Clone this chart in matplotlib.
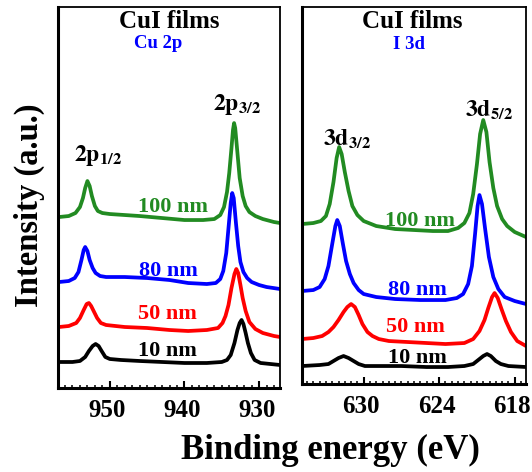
import matplotlib
matplotlib.use('Agg')
import matplotlib.pyplot as plt
import matplotlib.transforms as mtransforms
from matplotlib.ticker import MultipleLocator

plt.rcParams['font.family'] = 'Liberation Serif'
plt.rcParams['font.weight'] = 'bold'
plt.rcParams['mathtext.fontset'] = 'stix'

# ---- Cu 2p spectra (binding energy in eV, intensity in a.u.) ----
cu_e_100 = [956.8, 955.5, 954.6, 954.0, 953.6, 953.3, 953.0, 952.7, 952.4, 952.0, 951.6, 951.0, 950.0, 948.0,
            946.0, 943.0, 940.0, 937.5, 936.0, 935.2, 934.7, 934.3, 934.0, 933.7, 933.5, 933.35, 933.2, 932.9,
            932.6, 932.2, 931.8, 931.3, 930.5, 929.5, 928.0, 927.2]
cu_i_100 = [171, 172, 175, 181, 190, 200, 207, 202, 192, 182, 177, 175, 174, 173, 172, 170, 168, 168, 169, 173,
            181, 196, 215, 240, 258, 265, 260, 235, 210, 192, 182, 176, 172, 169, 166, 165]

cu_e_80 = [956.8, 955.5, 954.7, 954.2, 953.8, 953.5, 953.3, 953.0, 952.7, 952.3, 951.9, 951.3, 950.5, 948.0,
           945.0, 942.0, 939.5, 937.0, 935.8, 935.2, 934.8, 934.4, 934.1, 933.8, 933.6, 933.4, 933.1, 932.8,
           932.5, 932.1, 931.6, 931.0, 930.0, 929.0, 927.2]
cu_i_80 = [106, 107, 110, 116, 128, 138, 141, 137, 128, 120, 115, 112, 111, 111, 110, 108, 105, 104, 105, 109,
           117, 135, 160, 185, 195, 190, 165, 142, 126, 116, 110, 106, 103, 101, 99]

cu_e_50 = [956.8, 955.5, 954.5, 954.0, 953.5, 953.1, 952.8, 952.5, 952.1, 951.7, 951.2, 950.5, 948.0, 945.0,
           942.0, 939.5, 937.0, 935.5, 934.9, 934.5, 934.1, 933.7, 933.3, 933.05, 932.8, 932.5, 932.2, 931.8,
           931.3, 930.5, 929.5, 928.0, 927.2]
cu_i_50 = [61, 62, 65, 70, 78, 84, 85, 82, 76, 70, 65, 63, 61, 60, 58, 57, 58, 60, 65, 72, 83, 100, 114, 119,
           115, 103, 90, 77, 66, 59, 55, 52, 51]

cu_e_10 = [956.8, 955.0, 954.0, 953.3, 952.8, 952.3, 951.9, 951.5, 951.1, 950.6, 950.0, 948.5, 946.0, 943.0,
           940.0, 937.0, 935.0, 934.3, 933.8, 933.3, 932.9, 932.6, 932.35, 932.1, 931.8, 931.5, 931.1, 930.6,
           929.8, 928.5, 927.2]
cu_i_10 = [26, 26, 27, 31, 37, 42, 44, 42, 37, 31, 29, 28, 27, 26, 25, 25, 26, 28, 33, 45, 58, 65, 68, 64, 55,
           45, 35, 28, 25, 24, 23]

# ---- I 3d spectra ----
i_e_100 = [634.9, 634.0, 633.4, 633.0, 632.7, 632.4, 632.15, 631.95, 631.75, 631.5, 631.2, 630.9, 630.5, 630.0,
           629.0, 627.5, 626.0, 624.5, 623.3, 622.5, 622.0, 621.6, 621.3, 621.0, 620.75, 620.5, 620.25, 620.0,
           619.7, 619.4, 619.0, 618.6, 618.0, 617.1]
i_i_100 = [160, 161, 163, 168, 180, 202, 226, 237, 230, 212, 193, 178, 169, 163, 158, 155, 154, 153, 153, 156,
           161, 171, 190, 220, 250, 264, 252, 222, 196, 178, 165, 158, 152, 147]

i_e_80 = [634.9, 634.0, 633.5, 633.1, 632.8, 632.5, 632.25, 632.1, 631.9, 631.65, 631.4, 631.1, 630.8, 630.4,
          630.0, 629.0, 627.5, 625.5, 623.5, 622.6, 622.1, 621.7, 621.4, 621.15, 620.95, 620.8, 620.6, 620.35,
          620.05, 619.7, 619.3, 618.8, 618.0, 617.1]
i_i_80 = [93, 94, 97, 105, 118, 140, 158, 164, 158, 140, 123, 110, 101, 94, 90, 87, 85, 84, 84, 86, 90, 100,
          118, 150, 178, 189, 180, 155, 127, 107, 95, 87, 83, 80]

i_e_50 = [634.9, 634.0, 633.3, 632.8, 632.4, 632.0, 631.6, 631.3, 631.0, 630.7, 630.4, 630.1, 629.7, 629.3,
          628.8, 628.0, 626.5, 625.0, 623.5, 622.0, 621.3, 620.8, 620.4, 620.1, 619.8, 619.6, 619.35, 619.05,
          618.7, 618.3, 617.8, 617.1]
i_i_50 = [45, 46, 48, 52, 57, 64, 72, 77, 80, 77, 69, 60, 52, 48, 45, 43, 42, 41, 40, 41, 45, 53, 64, 76, 87,
          91, 86, 75, 63, 52, 43, 38]

i_e_10 = [634.9, 633.5, 632.8, 632.4, 632.0, 631.6, 631.2, 630.8, 630.4, 629.9, 628.5, 627.0, 625.0, 623.3,
          622.0, 621.3, 620.9, 620.5, 620.2, 619.9, 619.5, 619.1, 618.5, 617.1]
i_i_10 = [18, 19, 20, 23, 26, 28, 26, 23, 20, 18, 18, 18, 17, 17, 18, 20, 24, 28, 30, 28, 23, 20, 18, 17]

thickness = ['100 nm', '80 nm', '50 nm', '10 nm']
colors = ['#228b22', '#0000ff', '#ff0000', '#000000']


def setup_axes(ax, xlim, ylim, minor, ticks):
    ax.set_xlim(xlim)
    ax.set_ylim(ylim)
    ax.set_xticks(ticks)
    ax.xaxis.set_minor_locator(MultipleLocator(minor))
    ax.set_yticks([])
    ax.tick_params(axis='x', which='major', direction='in', length=5, width=1.5, labelsize=18, pad=8)
    ax.tick_params(axis='x', which='minor', direction='in', length=2.5, width=1.1)
    for s in ['left', 'bottom']:
        ax.spines[s].set_linewidth(2.2)
    for s in ['top', 'right']:
        ax.spines[s].set_linewidth(1.3)
    # labels sit a touch left of their ticks in the original
    shift = mtransforms.ScaledTranslation(-2.5 / 100, 0, fig.dpi_scale_trans)
    for lab in ax.get_xticklabels():
        lab.set_fontweight('bold')
        lab.set_transform(lab.get_transform() + shift)


fig = plt.figure(figsize=(5.32, 4.72), dpi=100)
ax1 = fig.add_axes([0.1096, 0.178, 0.4167, 0.807])
ax2 = fig.add_axes([0.5677, 0.1864, 0.4211, 0.7987])

cu_spectra = [(cu_e_100, cu_i_100), (cu_e_80, cu_i_80), (cu_e_50, cu_i_50), (cu_e_10, cu_i_10)]
i_spectra = [(i_e_100, i_i_100), (i_e_80, i_i_80), (i_e_50, i_i_50), (i_e_10, i_i_10)]

for i in range(0, 4):
    ax1.plot(cu_spectra[i][0], cu_spectra[i][1], c=colors[i], lw=2.7, solid_joinstyle='round')
    ax2.plot(i_spectra[i][0], i_spectra[i][1], c=colors[i], lw=2.7, solid_joinstyle='round')

setup_axes(ax1, (956.9, 927.2), (0, 381), 1, [950, 940, 930])
setup_axes(ax2, (634.9, 617.1), (0, 377), 0.5, [630, 624, 618])

# thickness labels
cu_lab_pos = [(941.5, 181), (942.2, 117), (942.3, 74), (942.3, 37)]
i_lab_pos = [(625.5, 163), (625.7, 94), (625.9, 57), (625.7, 26)]
for i in range(0, 4):
    ax1.text(cu_lab_pos[i][0], cu_lab_pos[i][1], thickness[i], color=colors[i], fontsize=16,
             fontweight='bold', ha='center', va='center')
    ax2.text(i_lab_pos[i][0], i_lab_pos[i][1], thickness[i], color=colors[i], fontsize=16,
             fontweight='bold', ha='center', va='center')

# peak labels
ax1.text(951.6, 233, r'$\mathbf{2p}_{\mathbf{1/2}}$', fontsize=17, ha='center', va='center')
ax1.text(933.0, 284, r'$\mathbf{2p}_{\mathbf{3/2}}$', fontsize=17, ha='center', va='center')
ax2.text(631.3, 245, r'$\mathbf{3d}_{\mathbf{3/2}}$', fontsize=17, ha='center', va='center')
ax2.text(620.0, 274, r'$\mathbf{3d}_{\mathbf{5/2}}$', fontsize=17, ha='center', va='center')

# panel titles
ax1.text(0.5, 0.962, 'CuI films', transform=ax1.transAxes, fontsize=18, fontweight='bold',
         ha='center', va='center')
ax1.text(0.449, 0.905, 'Cu 2p', transform=ax1.transAxes, color='#0000ff', fontsize=13.5, fontweight='bold',
         ha='center', va='center')
ax2.text(0.491, 0.962, 'CuI films', transform=ax2.transAxes, fontsize=18, fontweight='bold',
         ha='center', va='center')
ax2.text(0.479, 0.9, 'I 3d', transform=ax2.transAxes, color='#0000ff', fontsize=13.5, fontweight='bold',
         ha='center', va='center')

fig.text(330 / 532, 1 - 450 / 472, 'Binding energy (eV)', fontsize=25, fontweight='bold',
         ha='center', va='center')
fig.text(29 / 532, 1 - 205 / 472, 'Intensity (a.u.)', fontsize=23.5, fontweight='bold',
         rotation=90, ha='center', va='center')

plt.savefig('out.png', dpi=100)
